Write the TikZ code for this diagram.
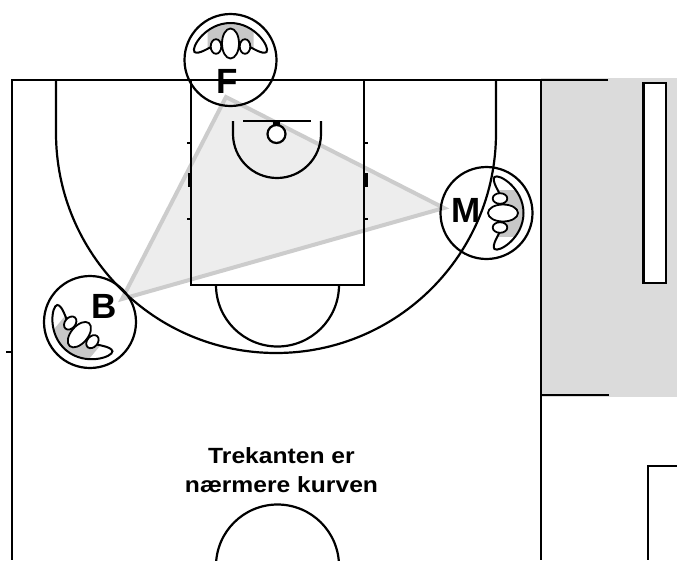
\documentclass[tikz,border=0pt]{standalone}
\usepackage{fontspec}
\setmainfont{Liberation Sans}
\newfontfamily\notefont[FakeStretch=1.12]{Liberation Sans}
\tikzset{
  court/.style={line width=2.2pt},
  player/.style={circle,draw,line width=2.2pt,minimum size=92pt,inner sep=0pt},
  letter/.style={font=\bfseries\fontsize{35}{35}\selectfont,inner sep=0pt},
  caption/.style={font=\notefont\bfseries\fontsize{22}{29}\selectfont,align=center,inner sep=0pt},
  tri/.style={draw=black!20,fill=black!7,line width=4pt,miter limit=10},
  limb/.style={draw,fill=white,line width=1.8pt}
}
% shoulders, hands and head of one player, head pointing up before the turn
\newcommand{\body}[2]{
  \begin{scope}[shift={(#1)},rotate=#2]
    \path[clip] (-23,-40) rectangle (23,0);
    \fill[black!22] (-36,-8) .. controls (-40,-12) and (-25,-37) .. (0,-37) .. controls (25,-37) and (40,-12) .. (36,-8) .. controls (32,-5) and (22,-12) .. (12,-17) -- (-12,-17) .. controls (-22,-12) and (-32,-5) .. (-36,-8) -- cycle;
  \end{scope}
  \begin{scope}[shift={(#1)},rotate=#2]
    \draw[line width=2pt] (-36,-8) .. controls (-40,-12) and (-25,-37) .. (0,-37) .. controls (25,-37) and (40,-12) .. (36,-8) .. controls (32,-5) and (22,-12) .. (12,-17) -- (-12,-17) .. controls (-22,-12) and (-32,-5) .. (-36,-8) -- cycle;
    \draw[limb] (-14.5,-13.5) ellipse (5.3 and 7.3);
    \draw[limb] (14.5,-13.5) ellipse (5.3 and 7.3);
    \draw[limb] (0,-16.5) ellipse (8.5 and 15);
  \end{scope}
}
\begin{document}
\begin{tikzpicture}[x=1pt,y=-1pt]
  \useasboundingbox (0,0) rectangle (677,560);

  \fill[black!14] (541,78) rectangle (677,397);

  \coordinate (triF) at (226,97);
  \coordinate (triM) at (444,208);
  \coordinate (triB) at (122,299);
  \draw[tri] (triF) -- (triM) -- (triB) -- cycle;

  \draw[court] (608,80) -- (12,80) -- (12,560);
  \draw[court] (541,80) -- (541,560);
  \draw[court] (541,395) -- (609,395);
  \draw[court] (6,352) -- (12,352);
  \draw[court,fill=white] (643.5,83) rectangle (666,283);
  \draw[court] (677,466) -- (648,466) -- (648,560);

  % key
  \draw[court] (191,80) -- (191,285) -- (364,285) -- (364,80);
  \draw[court] (187,143) -- (191,143);
  \draw[court] (187,219) -- (191,219);
  \draw[court] (364,143) -- (368,143);
  \draw[court] (364,219) -- (368,219);
  \fill (187.5,173) rectangle (191,187);
  \fill (364,173) rectangle (368,187);

  % arcs
  \draw[court] (56,80) -- (56,133) arc (180:0:220 and 220) -- (496,80);
  \draw[court] (216,285) arc (180:0:61.5 and 61.5);
  \draw[court] (233,121) -- (233,134) arc (180:0:44 and 44) -- (321,121);
  \draw[court] (216,566) arc (180:0:61.5 and -61.5);

  % basket
  \draw[court] (243,121) -- (311,121);
  \fill (273,121) rectangle (280,126);
  \draw[court,fill=white] (276.5,134) circle (9);

  % players
  \node[player] (F) at (230.5,60) {};
  \node[player] (M) at (486.5,213) {};
  \node[player] (B) at (90,322) {};
  \body{F.center}{0}
  \body{M.center}{-90}
  \body{B.center}{140}
  \node[letter] (Fname) at (227,81) {F};
  \node[letter] (Mname) at (466.5,210) {M};
  \node[letter] (Bname) at (104,306) {B};

  \node[caption] (note) at (281.5,470) {Trekanten er\\nærmere kurven};
\end{tikzpicture}
\end{document}
